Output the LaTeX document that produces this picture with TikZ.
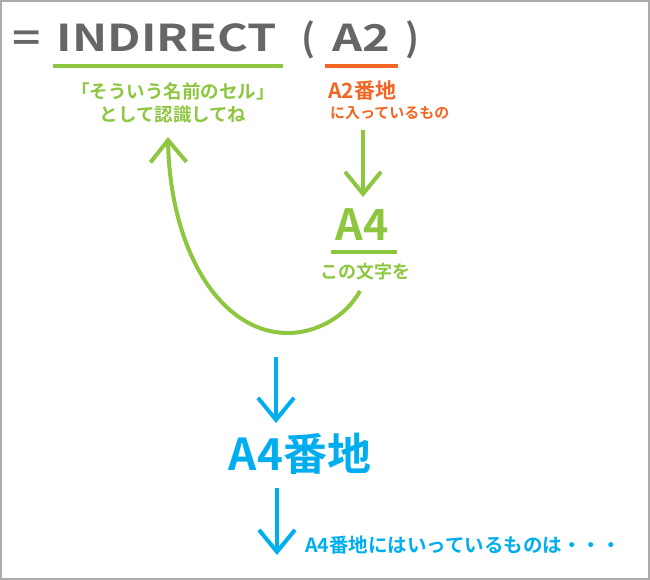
\documentclass[tikz,border=0pt]{standalone}
\usepackage{fontspec}
\setmainfont{Noto Sans CJK JP}[BoldFont=* Bold]
\usetikzlibrary{arrows.meta}
\definecolor{tgray}{HTML}{666666}
\definecolor{tgreen}{HTML}{8DC63F}
\definecolor{torange}{HTML}{F26522}
\definecolor{tblue}{HTML}{00AEEF}
\definecolor{tframe}{HTML}{ABABAB}
\tikzset{
  txt/.style={inner sep=0pt, font=\bfseries},
  ttl/.style={txt, tgray, font=\bfseries\fontsize{37}{40}\selectfont, anchor=base},
  uline/.style={line width=4pt},
  arr/.style={line width=4pt, -{Straight Barb[length=22pt,width=36pt,line width=4pt]}},
}
\begin{document}
\begin{tikzpicture}[x=1pt,y=-1pt]
\useasboundingbox (0,0) rectangle (650,580);
\draw[tframe, line width=1.5pt] (1,1) rectangle (649,579);
% title
\node[ttl] (eq) at (27,52) {\scalebox{1.3}[1]{=}};
\node[ttl] (ind) at (167,52) {\scalebox{1.27}[1]{INDIRECT}};
\node[ttl] (lp) at (308,52) {(};
\node[ttl] (a2) at (361,52) {\scalebox{1.27}[1]{A2}};
\node[ttl] (rp) at (412,52) {)};
% underlines
\coordinate (g1) at (53,66); \coordinate (g2) at (283,66);
\coordinate (o1) at (325,66); \coordinate (o2) at (398,66);
\draw[uline, tgreen] (g1) -- (g2);
\draw[uline, torange] (o1) -- (o2);
% green explanation
\node[txt, tgreen, font=\bfseries\fontsize{18.5}{20}\selectfont] (exp1) at (173,91) {「そういう名前のセル」};
\node[txt, tgreen, font=\bfseries\fontsize{18.5}{20}\selectfont] (exp2) at (173,115) {として認識してね};
% orange explanation
\node[txt, torange, font=\bfseries\fontsize{21}{23}\selectfont, anchor=west] (ad) at (328,91) {A2番地};
\node[txt, torange, font=\bfseries\fontsize{15}{17}\selectfont, anchor=west] (adin) at (330,113) {に入っているもの};
% green arrow down
\coordinate (ga1) at (363,130); \coordinate (ga2) at (363,197);
\draw[arr, tgreen] (ga1) -- (ga2);
% A4
\node[txt, tgreen, font=\bfseries\fontsize{43}{46}\selectfont, anchor=base] (a4) at (362,240) {A4};
\coordinate (u1) at (331,252); \coordinate (u2) at (397,252);
\draw[uline, tgreen] (u1) -- (u2);
\node[txt, tgreen, font=\bfseries\fontsize{18}{20}\selectfont] (moji) at (365,272) {この文字を};
% curved arrow
\coordinate (c0) at (360,291); \coordinate (cb) at (288,333); \coordinate (c1) at (168,137);
\draw[arr, tgreen] (c0) .. controls (345,318) and (315,333) .. (cb)
  .. controls (220,333) and (170,250) .. (c1);
% blue arrows
\coordinate (b1) at (276,357); \coordinate (b2) at (276,423);
\draw[arr, tblue] (b1) -- (b2);
\node[txt, tblue, font=\bfseries\fontsize{44}{46}\selectfont, anchor=base] (a4b) at (300,470) {A4番地};
\coordinate (b3) at (277,488); \coordinate (b4) at (277,555);
\draw[arr, tblue] (b3) -- (b4);
\node[txt, tblue, font=\bfseries\fontsize{19.5}{21}\selectfont, anchor=west] (last) at (305,545) {A4番地にはいっているものは・・・};
\end{tikzpicture}
\end{document}
